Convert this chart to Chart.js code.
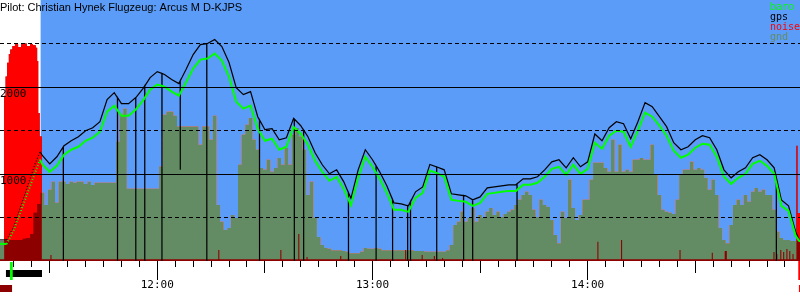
<!DOCTYPE html>
<html>
<head>
<meta charset="utf-8">
<script src="https://cdn.jsdelivr.net/npm/chart.js@4.4.1/dist/chart.umd.min.js"></script>
<style>
  body { margin: 0; background: #fff; }
  #wrap { width: 800px; height: 300px; }
</style>
</head>
<body>
<div id="wrap"><canvas id="baroChart" width="800" height="300"></canvas></div>
<script>
// Barogram - times are minutes after midnight, altitudes in metres
const pilotTitle = 'Pilot: Christian Hynek Flugzeug: Arcus M D-KJPS';
const seriesNames = ['baro', 'gps', 'noise', 'gnd'];

const timeMin = 676.14;
const timeMax = 899.2;
const skyStart = 687.4;          // engine off, gliding part shaded blue

const xLabelTimes = [720, 780, 840];
const xLabelTexts = ['12:00', '13:00', '14:00'];
const yLabelValues = [1000, 2000];
const yLabelTexts = ['1000', '2000'];
const solidLevels = [1000, 2000];
const dashedLevels = [500, 1500, 2500];

const trackTimes = [676, 678, 680, 682, 684, 686, 687.3,
    688, 690, 692, 694, 696, 698, 700, 702, 704, 706,
    708, 710, 712, 714, 716, 718, 720, 722, 724, 726,
    728, 730, 732, 734, 736, 738, 740, 742, 744, 746,
    748, 750, 752, 754, 756, 758, 760, 762, 764, 766,
    768, 770, 772, 774, 776, 778, 780, 782, 784, 786,
    788, 790, 792, 794, 796, 798, 800, 802, 804, 806,
    808, 810, 812, 814, 816, 818, 820, 822, 824, 826,
    828, 830, 832, 834, 836, 838, 840, 842, 844, 846,
    848, 850, 852, 854, 856, 858, 860, 862, 864, 866,
    868, 870, 872, 874, 876, 878, 880, 882, 884, 886,
    888, 890, 892, 894, 896, 898, 899, 900];

const gpsAlt = [242, 242, 396, 637, 881, 1124, 1256,
    1210, 1117, 1198, 1325, 1382, 1428, 1498, 1532, 1601, 1855,
    1935, 1809, 1809, 1878, 1981, 2108, 2177, 2143, 2085, 2039,
    2200, 2373, 2488, 2500, 2546, 2465, 2281, 1993, 1912, 1947,
    1659, 1509, 1521, 1394, 1417, 1640, 1555, 1428, 1244, 1106,
    1002, 1048, 910, 720, 1048, 1279, 1164, 1025, 864, 668,
    657, 634, 795, 852, 1110, 1080, 1048, 772, 760, 749,
    703, 737, 841, 852, 864, 876, 876, 945, 945, 968,
    1048, 1140, 1164, 1071, 1187, 1083, 1140, 1460, 1382, 1532,
    1601, 1578, 1405, 1601, 1820, 1774, 1659, 1544, 1359, 1279,
    1313, 1394, 1440, 1417, 1279, 1048, 956, 1025, 1071, 1187,
    1221, 1164, 1071, 703, 634, 334, 242, 242];

const baroAlt = [196, 196, 358, 578, 801, 1023, 1164,
    1106, 1025, 1094, 1221, 1279, 1313, 1382, 1417, 1486, 1716,
    1786, 1670, 1670, 1740, 1843, 1970, 2028, 2005, 1947, 1901,
    2051, 2212, 2315, 2327, 2385, 2304, 2120, 1832, 1751, 1786,
    1521, 1382, 1405, 1279, 1313, 1540, 1463, 1336, 1152, 1025,
    922, 968, 829, 640, 956, 1198, 1083, 945, 783, 588,
    588, 565, 726, 783, 1040, 1010, 968, 703, 691, 680,
    634, 668, 772, 783, 795, 806, 806, 876, 876, 899,
    968, 1060, 1083, 991, 1106, 1002, 1060, 1360, 1290, 1440,
    1498, 1486, 1313, 1498, 1705, 1659, 1555, 1440, 1267, 1187,
    1221, 1302, 1348, 1336, 1198, 968, 887, 956, 1002, 1117,
    1152, 1094, 1002, 634, 576, 288, 230, 230];

// gps fixes that fell out (altitude recorded as 0 or garbage)
const gpsDropTimes = [693.8, 708.9, 714.0, 716.5, 721.3, 726.4, 733.8, 748.5, 758.2, 760.8,
    773.3, 781.0, 785.6, 789.8, 790.6, 797.9, 805.4, 807.9, 820.3, 892.6];
const gpsDropAlt = [0, 0, 0, 0, 0, 1050, 0, 0, 0, 0,
    0, 0, 0, 0, 0, 0, 0, 0, 0, 0];

// terrain under the track, one value per minute from 11:16
const gndStart = 676;
const gndAlt = [230, 230,
    230, 240, 240, 240, 240, 255, 265, 310, 555, 655,
    785, 645, 820, 910, 670, 910, 910, 885, 910, 900,
    910, 910, 885, 910, 875, 900, 900, 900, 900, 900,
    900, 1370, 1680, 1750, 830, 830, 830, 830, 830, 830,
    830, 830, 830, 1085, 1680, 1715, 1715, 1670, 1545, 1545,
    1545, 1545, 1545, 1545, 1335, 1545, 1545, 1395, 1670, 645,
    450, 355, 380, 530, 495, 1105, 1450, 1565, 1645, 1395,
    1280, 1070, 1050, 1165, 1025, 1070, 1185, 1105, 1300, 1105,
    1450, 1530, 1430, 1280, 760, 910, 495, 275, 185, 150,
    140, 125, 125, 125, 115, 105, 90, 90, 90, 105,
    150, 140, 140, 150, 140, 125, 125, 125, 125, 125,
    125, 125, 125, 125, 115, 115, 115, 105, 105, 105,
    105, 105, 105, 125, 185, 415, 450, 565, 450, 495,
    610, 450, 530, 495, 565, 610, 530, 565, 505, 540,
    565, 590, 645, 705, 760, 795, 760, 590, 505, 705,
    645, 620, 470, 300, 205, 565, 495, 935, 610, 470,
    530, 705, 705, 935, 1130, 1130, 1130, 1070, 1025, 1395,
    1025, 1335, 1025, 1050, 1025, 1165, 1165, 1185, 1165, 1165,
    1335, 990, 760, 590, 565, 555, 540, 705, 990, 1050,
    1050, 1140, 1050, 1070, 1050, 955, 820, 935, 760, 380,
    240, 205, 415, 645, 705, 645, 760, 680, 795, 840,
    795, 820, 760, 760, 590, 335, 265, 240, 240, 230,
    230, 230, 230];

// engine noise level, each value holds until the next time
const noiseTimes = [676, 677.3, 677.7, 678.1, 678.6, 679.0, 679.6, 680.3, 681.2, 682.0,
    682.8, 683.6, 684.5, 685.3, 686.1, 686.5, 686.8, 687.2, 687.8,
    690.2, 690.5, 737.0, 737.3, 754.3, 754.6, 759.3, 759.6, 761.6, 761.9,
    771.0, 771.3, 789.1, 789.4, 793.7, 794.0, 797.1, 797.4, 799.4, 799.7,
    842.7, 843.0, 849.3, 849.6, 865.6, 865.9, 874.6, 874.9, 878.2, 878.8,
    891.8, 892.1, 892.6, 892.9, 893.7, 894.0, 894.5, 894.8, 895.4, 895.7,
    896.2, 896.5, 897.1, 897.4, 898.2, 898.5, 900];
const noiseLevel = [20, 1900, 2120, 2280, 2380, 2430, 2470, 2490, 2460, 2490,
    2500, 2470, 2495, 2480, 2450, 2300, 1700, 1430, 20,
    69, 20, 127, 20, 127, 20, 311, 20, 46, 20,
    58, 20, 127, 20, 69, 20, 58, 20, 35, 20,
    222, 20, 242, 20, 127, 20, 96, 20, 115, 20,
    104, 20, 81, 20, 127, 20, 104, 20, 138, 20,
    115, 20, 81, 20, 1325, 550, 550];

// markers under the time axis
const engineRuns = [[677.8, 687.85]];
const groundBefore = [676.14, 679.5];
const groundAfter = [898.9, 899.2];
const takeoffTime = 679.3;
const landingTime = 899.0;

const skyBlue = '#5a9cf8';
const gndColor = '#648c64';
const noiseRed = '#ff0000';
const darkRed = '#8c0000';
const baroGreen = '#00ff00';
const seriesColors = [baroGreen, '#000000', noiseRed, gndColor];

function valueAt(times, values, t) {
    for (let i = 1; i < times.length; i++) {
        if (times[i] >= t) {
            const f = (t - times[i - 1]) / (times[i] - times[i - 1]);
            return values[i - 1] + f * (values[i] - values[i - 1]);
        }
    }
    return values[values.length - 1];
}

const baroPoints = trackTimes.map((t, i) => ({ x: t, y: baroAlt[i] }));
const gpsPoints = trackTimes.map((t, i) => ({ x: t, y: gpsAlt[i] }));
gpsDropTimes.forEach((t, i) => {
    const v = valueAt(trackTimes, gpsAlt, t);
    gpsPoints.push({ x: t - 0.02, y: v }, { x: t, y: gpsDropAlt[i] }, { x: t + 0.02, y: v });
});
gpsPoints.sort((a, b) => a.x - b.x);

const gndPoints = gndAlt.map((v, i) => ({ x: gndStart + i, y: v }));
const skyPoints = gndPoints.filter(p => p.x > skyStart);
skyPoints.unshift({ x: skyStart, y: gndAlt[Math.round(skyStart - gndStart)] });

const noisePoints = noiseTimes.map((t, i) => ({ x: t, y: noiseLevel[i] }));

// dotted while climbing under engine power
const climbDash = ctx => (ctx.p0.parsed.x >= 678 && ctx.p1.parsed.x <= 687.3) ? [1, 2] : undefined;

const monoFont = { family: 'DejaVu Sans Mono', size: 11 };

// no label padding around the axes, the plot fills the canvas
function noPad(s) {
    s.paddingTop = 0;
    s.paddingBottom = 0;
    s.paddingLeft = 0;
    s.paddingRight = 0;
}

const flightMarks = {
    id: 'flightMarks',
    afterDraw(chart) {
        const ctx = chart.ctx;
        const xs = chart.scales.x;
        const bottom = chart.chartArea.bottom;
        const px = v => xs.getPixelForValue(v);
        ctx.save();

        // longer marks on half hours and hours
        ctx.strokeStyle = '#000';
        ctx.lineWidth = 1;
        xs.ticks.forEach(t => {
            let len = 0;
            if (t.value % 60 === 0) len = 19;
            else if (t.value % 30 === 0) len = 12;
            if (!len) return;
            const x = Math.round(px(t.value) - 0.5) + 0.5;
            ctx.beginPath();
            ctx.moveTo(x, bottom);
            ctx.lineTo(x, bottom + len);
            ctx.stroke();
        });

        ctx.fillStyle = '#000';
        engineRuns.forEach(r => ctx.fillRect(px(r[0]), bottom + 9, px(r[1]) - px(r[0]), 7));

        ctx.fillStyle = darkRed;
        ctx.fillRect(px(groundBefore[0]), bottom + 24, px(groundBefore[1]) - px(groundBefore[0]), 7);
        ctx.fillStyle = noiseRed;
        ctx.fillRect(px(groundAfter[0]), bottom + 24, px(groundAfter[1]) - px(groundAfter[0]) + 1, 7);

        ctx.fillStyle = baroGreen;
        ctx.fillRect(px(takeoffTime) - 1.3, bottom + 1, 2.7, 18);
        ctx.fillStyle = noiseRed;
        ctx.fillRect(px(landingTime) - 1, bottom, 2, 19);

        // title and legend
        ctx.textBaseline = 'alphabetic';
        ctx.textAlign = 'left';
        ctx.fillStyle = '#000';
        ctx.font = '11px "Liberation Sans"';
        ctx.fillText(pilotTitle, 0, 11);

        ctx.font = '10px "DejaVu Sans Mono"';
        seriesNames.forEach((name, i) => {
            ctx.fillStyle = seriesColors[i];
            ctx.fillText(name, 770, 9.5 + i * 10);
        });
        ctx.restore();
    }
};

const ctx = document.getElementById('baroChart').getContext('2d');
new Chart(ctx, {
    type: 'line',
    data: {
        datasets: [{
            label: 'sky',
            data: skyPoints,
            stepped: 'middle',
            fill: 'end',
            backgroundColor: skyBlue,
            borderColor: 'rgba(0,0,0,0)',
            borderWidth: 0,
            pointRadius: 0,
            order: 6
        }, {
            label: 'gnd',
            data: gndPoints,
            stepped: 'middle',
            fill: 'origin',
            backgroundColor: gndColor,
            borderColor: 'rgba(0,0,0,0)',
            borderWidth: 0,
            pointRadius: 0,
            order: 5
        }, {
            label: 'noise under gnd',
            data: noisePoints.map(p => ({ x: p.x, y: p.y })),
            stepped: true,
            fill: 'origin',
            backgroundColor: darkRed,
            borderColor: 'rgba(0,0,0,0)',
            borderWidth: 0,
            pointRadius: 0,
            order: 4
        }, {
            label: 'noise',
            data: noisePoints,
            stepped: true,
            fill: { target: 1, above: noiseRed, below: 'rgba(0,0,0,0)' },
            backgroundColor: noiseRed,
            borderColor: 'rgba(0,0,0,0)',
            borderWidth: 0,
            pointRadius: 0,
            order: 3
        }, {
            label: 'gps',
            data: gpsPoints,
            borderColor: '#000',
            borderWidth: 1.2,
            pointRadius: 0,
            fill: false,
            order: 2,
            segment: { borderDash: climbDash }
        }, {
            label: 'baro',
            data: baroPoints,
            borderColor: baroGreen,
            borderWidth: 2,
            pointRadius: 0,
            fill: false,
            order: 1,
            segment: { borderDash: climbDash }
        }]
    },
    options: {
        responsive: false,
        animation: false,
        events: [],
        layout: { padding: 0, autoPadding: false },
        plugins: {
            legend: { display: false },
            tooltip: { enabled: false }
        },
        scales: {
            x: {
                type: 'linear',
                min: timeMin,
                max: timeMax,
                afterFit: s => { s.height = 39; noPad(s); },
                border: { display: false },
                grid: { drawOnChartArea: false, drawTicks: true, tickLength: 6, tickColor: '#000', tickWidth: 1 },
                ticks: {
                    stepSize: 5,
                    autoSkip: false,
                    maxRotation: 0,
                    minRotation: 0,
                    includeBounds: false,
                    padding: 12,
                    color: '#000',
                    font: monoFont,
                    callback: v => {
                        const i = xLabelTimes.indexOf(v);
                        return i < 0 ? '' : xLabelTexts[i];
                    }
                }
            },
            y: {
                min: 0,
                max: 3000,
                position: 'left',
                afterFit: s => { s.width = 0; noPad(s); },
                border: { display: false },
                grid: {
                    drawTicks: false,
                    z: 1,
                    color: c => solidLevels.includes(c.tick.value) ? '#000' : 'rgba(0,0,0,0)'
                },
                ticks: {
                    stepSize: 1000,
                    mirror: true,
                    padding: 0,
                    labelOffset: 7,
                    z: 1,
                    color: '#000',
                    font: monoFont,
                    callback: v => {
                        const i = yLabelValues.indexOf(v);
                        return i < 0 ? '' : yLabelTexts[i];
                    }
                }
            },
            y2: {
                min: 0,
                max: 3000,
                position: 'left',
                afterFit: s => { s.width = 0; noPad(s); },
                border: { display: false, dash: [4, 3] },
                grid: {
                    drawTicks: false,
                    z: 1,
                    color: c => dashedLevels.includes(c.tick.value) ? '#000' : 'rgba(0,0,0,0)'
                },
                ticks: { display: false, stepSize: 500 }
            }
        }
    },
    plugins: [flightMarks]
});
</script>
</body>
</html>
